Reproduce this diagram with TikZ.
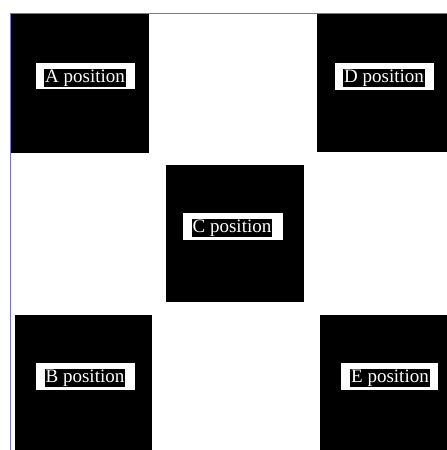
\documentclass[tikz,border=0pt]{standalone}
\usepackage{fontspec}
\setmainfont{Liberation Serif}
\begin{document}
\begin{tikzpicture}[x=1pt,y=-1pt,
  blk/.style={fill=black,draw=none},
  lblbox/.style={fill=white,draw=none},
  lbltext/.style={fill=black,text=white,inner xsep=1pt,inner ysep=0.5pt,font=\fontsize{19}{21}\selectfont,anchor=center}]
\useasboundingbox (0,0) rectangle (447,450);
\fill[white] (0,0) rectangle (447,450);
% frame lines
\coordinate (tl) at (10,13);
\coordinate (tr) at (447,13);
\coordinate (bl) at (10,450);
\draw[color={rgb,255:red,120;green,115;blue,200},line width=1pt] (tr) -- (tl) -- (bl);
% squares
\fill[blk] (11,14) rectangle (149,153);
\fill[blk] (317,14) rectangle (447,152);
\fill[blk] (166,165) rectangle (304,302);
\fill[blk] (15,315) rectangle (152,450);
\fill[blk] (320,315) rectangle (447,450);
% label boxes
\fill[lblbox] (36,63) rectangle (135,89);
\fill[lblbox] (335,63) rectangle (434,90);
\fill[lblbox] (183,213) rectangle (283,240);
\fill[lblbox] (36,363) rectangle (135,390);
\fill[lblbox] (341,363) rectangle (438,390);
% labels
\node[lbltext] (A) at (85,78) {A position};
\node[lbltext] (D) at (384,78) {D position};
\node[lbltext] (C) at (232,228) {C position};
\node[lbltext] (B) at (85,378) {B position};
\node[lbltext] (E) at (390,378) {E position};
\end{tikzpicture}
\end{document}
